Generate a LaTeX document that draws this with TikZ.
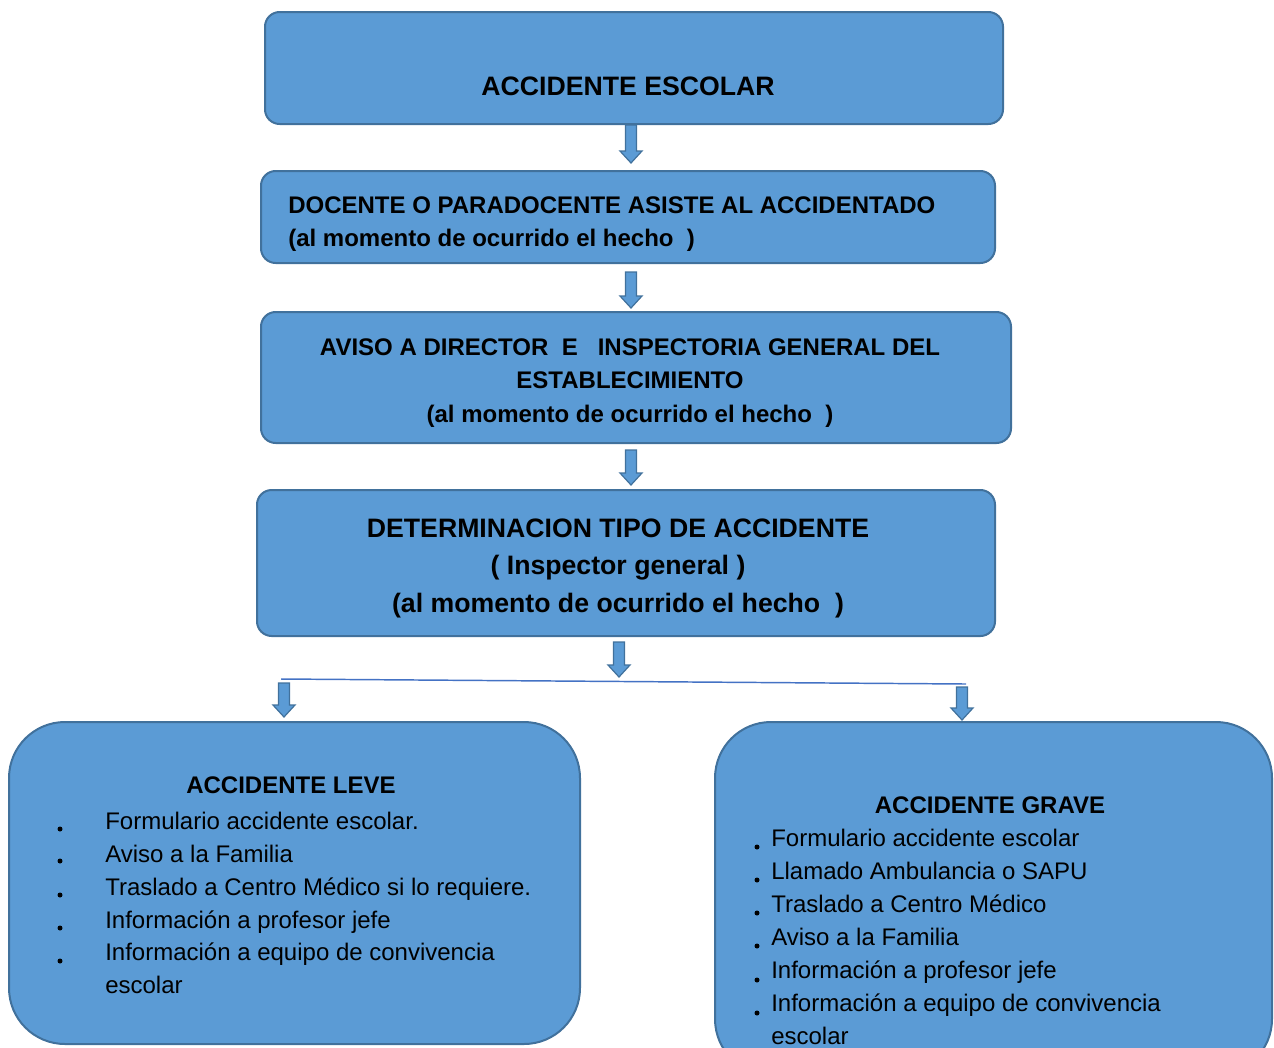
\documentclass[tikz,border=0pt]{standalone}
\usepackage{fontspec}
\setmainfont{Liberation Sans}
\usetikzlibrary{fit,calc}
\definecolor{azul}{HTML}{5B9BD5}
\definecolor{borde}{HTML}{41719C}
\definecolor{lineaazul}{HTML}{4472C4}
\tikzset{
    caja/.style = {draw=borde, fill=azul, line width=1.5pt, rounded corners=11pt, inner sep=0pt},
    cajagrande/.style = {caja, rounded corners=42pt},
    flecha/.style = {draw=borde, fill=azul, line width=0.9pt},
    rama/.style = {draw=lineaazul, line width=1.1pt},
    titulo/.style = {font=\bfseries\fontsize{18}{25}\selectfont, inner sep=0pt, align=center},
    titulogrande/.style = {titulo, font=\bfseries\fontsize{20}{28}\selectfont},
    lista/.style = {font=\fontsize{18}{24.7}\selectfont, inner sep=0pt, align=left, anchor=west}
}
\newcommand{\flechabaja}[2]{%
    \filldraw[flecha] (#1) ++(-5.5,0) -- ++(0,#2-12) -- ++(-5.5,0)
        -- ++(11,12) -- ++(11,-12) -- ++(-5.5,0) -- ++(0,12-#2) -- cycle;
}

\begin{document}
\begin{tikzpicture}[x=0.75pt, y=-0.75pt]
    \useasboundingbox (0,0) rectangle (1274,1047);

    \node[caja, fit={(265,12) (1003,124)}] (escolar) {};
    \node[caja, fit={(261,171) (995,263)}] (docente) {};
    \node[caja, fit={(261,312) (1011,443)}] (aviso) {};
    \node[caja, fit={(257,490) (995,636)}] (tipo) {};
    \node[cajagrande, fit={(9,722) (580,1044)}] (leve) {};
    \node[cajagrande, fit={(715,722) (1272,1075)}] (grave) {};

    \node[titulogrande] (tescolar) at (628,86) {ACCIDENTE ESCOLAR};
    \node[titulo, align=left, anchor=west] (tdocente) at (288,224)
        {DOCENTE O PARADOCENTE ASISTE AL ACCIDENTADO\\(al momento de ocurrido el hecho~~)};
    \node[titulo] (taviso) at (630,383)
        {AVISO A DIRECTOR~ E~~ INSPECTORIA GENERAL DEL\\ESTABLECIMIENTO\\(al momento de ocurrido el hecho~~)};
    \node[titulogrande, font=\bfseries\fontsize{20}{28.1}\selectfont] (ttipo) at (618,568)
        {DETERMINACION TIPO DE ACCIDENTE\\( Inspector general )\\(al momento de ocurrido el hecho~~)};

    \node[titulo] (tleve) at (291,785) {ACCIDENTE LEVE};
    \node[lista] (lleve) at (105,903)
        {Formulario accidente escolar.\\Aviso a la Familia\\Traslado a Centro Médico si lo requiere.\\Información a profesor jefe\\Información a equipo de convivencia\\escolar};
    \foreach \y in {829,861,895,928,961}
        \fill (60,\y) circle (2.5);

    \node[titulo] (tgrave) at (990,805) {ACCIDENTE GRAVE};
    \node[lista, font=\fontsize{18}{24.75}\selectfont] (lgrave) at (771,937)
        {Formulario accidente escolar\\Llamado Ambulancia o SAPU\\Traslado a Centro Médico\\Aviso a la Familia\\Información a profesor jefe\\Información a equipo de convivencia\\escolar};
    \foreach \y in {847,880,913,946,980,1013}
        \fill (757,\y) circle (2.5);

    % flechas entre cajas
    \flechabaja{escolar.south -| 631,0}{38}
    \flechabaja{$(docente.south -| 631,0)+(0,8)$}{36}
    \flechabaja{$(aviso.south -| 631,0)+(0,6)$}{35}
    \flechabaja{$(tipo.south -| 619,0)+(0,5)$}{35}

    \coordinate (ramai) at (281,679);
    \coordinate (ramad) at (966,684);
    \draw[rama] (ramai) -- (ramad);
    \flechabaja{$(ramai)+(3,4)$}{34}
    \flechabaja{$(ramad)+(-4,3)$}{33}
\end{tikzpicture}
\end{document}
